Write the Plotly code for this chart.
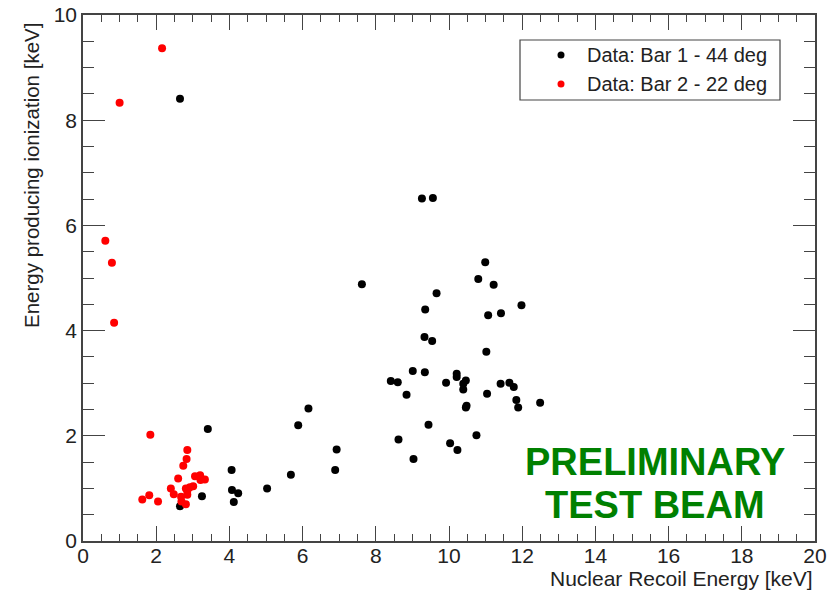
import plotly.graph_objects as go

# Bar 1 - 44 deg (black)
bar1_x = [2.65, 2.65, 3.25, 3.41, 4.06, 4.07, 4.24, 4.12, 5.03, 5.68, 5.88, 6.16, 6.93, 6.89, 7.62,
          8.41, 8.60, 9.01, 9.34, 8.84, 9.92, 10.21, 10.21, 10.46, 10.39, 10.39, 11.04, 11.41, 11.65,
          11.77, 11.84, 11.89, 12.49, 10.46, 10.48, 9.44, 8.62, 10.75, 10.03, 10.23, 9.03, 9.26, 9.56,
          10.99, 10.80, 11.22, 9.66, 9.35, 11.98, 11.07, 11.42, 9.33, 9.54, 11.02]
bar1_y = [8.41, 0.66, 0.85, 2.13, 1.35, 0.97, 0.91, 0.74, 1.00, 1.26, 2.20, 2.52, 1.74, 1.35, 4.88,
          3.04, 3.02, 3.23, 3.21, 2.78, 3.01, 3.18, 3.12, 3.05, 2.99, 2.88, 2.80, 2.99, 3.01,
          2.93, 2.68, 2.54, 2.63, 2.54, 2.57, 2.21, 1.93, 2.01, 1.86, 1.73, 1.56, 6.51, 6.52,
          5.30, 4.98, 4.87, 4.71, 4.40, 4.48, 4.29, 4.33, 3.88, 3.80, 3.60]

# Bar 2 - 22 deg (red)
bar2_x = [2.16, 1.00, 0.61, 0.79, 0.85, 1.84, 2.85, 2.83, 2.74, 2.60, 3.06, 3.20, 3.21, 3.33,
          3.01, 2.92, 2.81, 2.40, 2.48, 2.68, 2.85, 2.85, 2.81, 2.69, 1.62, 1.81, 2.05]
bar2_y = [9.37, 8.33, 5.71, 5.29, 4.15, 2.02, 1.73, 1.56, 1.43, 1.19, 1.23, 1.25, 1.16, 1.17,
          1.04, 1.02, 1.00, 1.00, 0.89, 0.84, 0.88, 0.95, 0.70, 0.75, 0.79, 0.87, 0.75]

series_names = ["Data: Bar 1 - 44 deg", "Data: Bar 2 - 22 deg"]
series_colors = ["#000000", "#ff0000"]
x_title = "Nuclear Recoil Energy [keV]"
y_title = "Energy producing ionization [keV]"
stamp_lines = ["PRELIMINARY", "TEST BEAM"]

FONT = "Liberation Sans, Arial, Helvetica, sans-serif"
AX = "#444444"

# plot area in pixels (for converting layout positions to paper coords)
L, R, T, B = 83, 815, 15, 541
W, H = R - L, B - T
px = lambda p: (p - L) / W
py = lambda p: (B - p) / H

fig = go.Figure()
fig.add_trace(go.Scatter(x=bar1_x, y=bar1_y, mode="markers", name=series_names[0],
                         marker=dict(color=series_colors[0], size=8), showlegend=False))
fig.add_trace(go.Scatter(x=bar2_x, y=bar2_y, mode="markers", name=series_names[1],
                         marker=dict(color=series_colors[1], size=8), showlegend=False))

axis_common = dict(
    showgrid=False, zeroline=False, showline=True, linecolor=AX, linewidth=1.5,
    mirror="ticks", ticks="inside", tickcolor=AX, tickwidth=1.2,
    tickfont=dict(family=FONT, size=21, color="#222222"),
    dtick=2, tick0=0, automargin=False,
)
fig.update_xaxes(**axis_common, range=[0, 20], ticklen=15, ticklabelstandoff=-5,
                 minor=dict(dtick=0.5, ticks="inside", ticklen=7, tickcolor=AX, tickwidth=1.2))
fig.update_yaxes(**axis_common, range=[0, 10], ticklen=22,
                 minor=dict(dtick=0.5, ticks="inside", ticklen=11, tickcolor=AX, tickwidth=1.2))

fig.add_annotation(text=x_title, xref="paper", yref="paper", x=1.0, y=py(578),
                   xanchor="right", yanchor="middle", showarrow=False,
                   font=dict(family=FONT, size=21, color="#222222"))
fig.add_annotation(text=y_title, xref="paper", yref="paper", x=px(31), y=py(176),
                   xanchor="center", yanchor="middle", textangle=-90, showarrow=False,
                   font=dict(family=FONT, size=20.5, color="#222222"))
fig.add_annotation(text="<b>%s</b>" % stamp_lines[0], xref="paper", yref="paper", x=px(655), y=py(462),
                   xanchor="center", yanchor="middle", showarrow=False,
                   font=dict(family=FONT, size=38, color="#008000"))
fig.add_annotation(text="<b>%s</b>" % stamp_lines[1], xref="paper", yref="paper", x=px(655), y=py(505),
                   xanchor="center", yanchor="middle", showarrow=False,
                   font=dict(family=FONT, size=38, color="#008000"))

# legend box drawn manually
shapes = [dict(type="rect", xref="paper", yref="paper", x0=px(520), x1=px(780), y0=py(100), y1=py(40),
               line=dict(color=AX, width=1.2), fillcolor="white", layer="above")]
row_y = [55, 84]
for name, col, ry in zip(series_names, series_colors, row_y):
    shapes.append(dict(type="circle", xref="paper", yref="paper",
                       x0=px(557.5), x1=px(564.5), y0=py(ry + 3.5), y1=py(ry - 3.5),
                       line=dict(width=0), fillcolor=col, layer="above"))
    fig.add_annotation(text=name, xref="paper", yref="paper", x=px(585), y=py(ry),
                       xanchor="left", yanchor="middle", showarrow=False,
                       font=dict(family=FONT, size=20, color="#222222"))

fig.update_layout(
    width=828, height=590,
    margin=dict(l=L, r=828 - R, t=T, b=590 - B),
    paper_bgcolor="white", plot_bgcolor="white",
    showlegend=False,
    shapes=shapes,
)

fig.write_html("out.html")
